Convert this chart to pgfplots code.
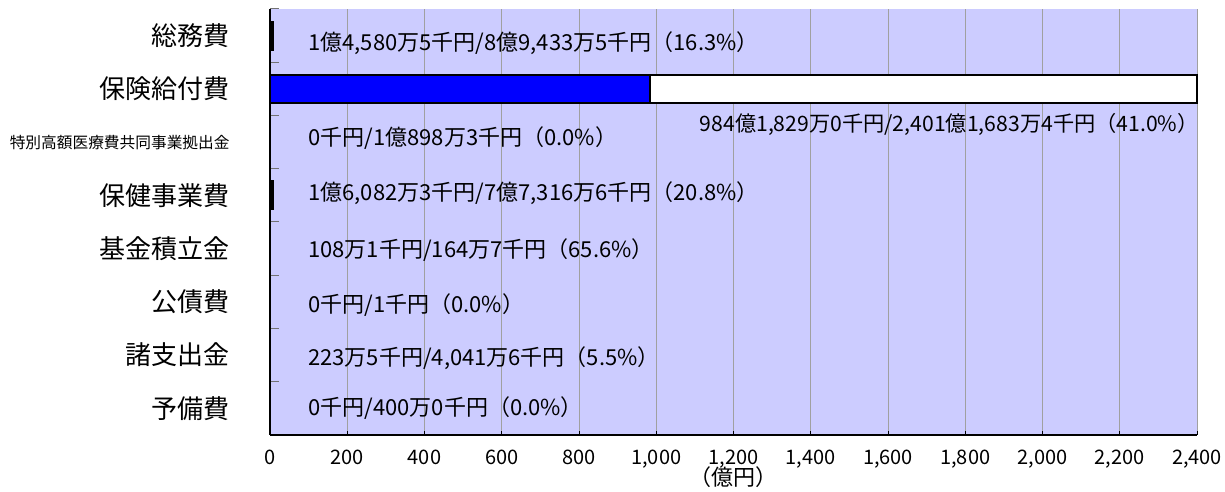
\documentclass[border=0pt]{standalone}
\usepackage{fontspec}
\setmainfont{Noto Sans CJK JP}
\usepackage{pgfplots}
\pgfplotsset{compat=1.18}

\definecolor{lav}{RGB}{204,204,255}
\definecolor{gridgray}{RGB}{160,160,160}
\definecolor{barblue}{RGB}{0,0,255}
\newcommand{\lbl}{\fontsize{11}{13}\selectfont}

\begin{document}
\begin{tikzpicture}
\begin{axis}[
  name=ax,
  scale only axis, width=463.5pt, height=213pt,
  xmin=0, xmax=2400, ymin=-0.5, ymax=7.5,
  clip=false,
  xbar, bar shift=0pt, bar width=0.53,
  axis background/.style={fill=lav},
  axis line style={draw=none},
  xtick={0,200,...,2400},
  xtick pos=left, ytick pos=left,
  tick align=inside,
  xmajorgrids,
  x grid style={gridgray, line width=0.5pt},
  major tick length=2pt, minor tick length=4.5pt,
  every major x tick/.style={black, line width=0.5pt},
  every major y tick/.style={draw=none},
  every minor y tick/.style={black!55, line width=0.5pt},
  ytick={0,...,7},
  minor ytick={-0.5,0.5,...,7.5},
  yticklabels={予備費,諸支出金,公債費,基金積立金,保健事業費,
    {\fontsize{7.85}{9}\selectfont 特別高額医療費共同事業拠出金},
    保険給付費,総務費},
  yticklabel style={font=\fontsize{13}{15}\selectfont, inner sep=0pt, xshift=-20pt},
  scaled x ticks=false,
  xticklabel style={font=\fontsize{10}{11}\selectfont, inner sep=0pt, yshift=-7.5pt},
  /pgf/number format/.cd, 1000 sep={,}, assume math mode=true,
]
% budget (white)
\addplot[fill=white, draw=black, line width=1pt] coordinates {
  (8.94335,7) (2401.16834,6) (1.08983,5) (7.73166,4)
  (0.01647,3) (0.00001,2) (0.40416,1) (0.04,0)
};
% actual (blue)
\addplot[fill=barblue, draw=black, line width=1pt] coordinates {
  (1.45805,7) (984.1829,6) (0,5) (1.60823,4)
  (0.01081,3) (0,2) (0.02235,1) (0,0)
};
\draw[black, line width=0.75pt] (rel axis cs:0,0) -- (rel axis cs:0,1);
\draw[black, line width=0.75pt] (rel axis cs:0,0) -- (rel axis cs:1,0);

\node[anchor=west, inner sep=0pt, font=\lbl] at (axis cs:98.3,6.86) {1億4,580万5千円/8億9,433万5千円（16.3\%）};
\node[anchor=east, inner sep=0pt, font=\fontsize{10.6}{12}\selectfont] at (axis cs:2405,5.34) {984億1,829万0千円/2,401億1,683万4千円（41.0\%）};
\node[anchor=west, inner sep=0pt, font=\lbl] at (axis cs:98.3,5.08) {0千円/1億898万3千円（0.0\%）};
\node[anchor=west, inner sep=0pt, font=\lbl] at (axis cs:98.3,4.045) {1億6,082万3千円/7億7,316万6千円（20.8\%）};
\node[anchor=west, inner sep=0pt, font=\lbl] at (axis cs:98.3,2.974) {108万1千円/164万7千円（65.6\%）};
\node[anchor=west, inner sep=0pt, font=\lbl] at (axis cs:98.3,1.94) {0千円/1千円（0.0\%）};
\node[anchor=west, inner sep=0pt, font=\lbl] at (axis cs:98.3,0.946) {223万5千円/4,041万6千円（5.5\%）};
\node[anchor=west, inner sep=0pt, font=\lbl] at (axis cs:98.3,0.007) {0千円/400万0千円（0.0\%）};
\node[inner sep=0pt, font=\fontsize{11}{12}\selectfont] at (rel axis cs:0.5,0) [yshift=-21pt] {（億円）};
\end{axis}
\pgfresetboundingbox
\path (ax.south west) ++(-135pt,-28.5pt) coordinate (bl);
\path (ax.north east) ++(14pt,4.5pt) coordinate (tr);
\path (bl) rectangle (tr);
\end{tikzpicture}
\end{document}
